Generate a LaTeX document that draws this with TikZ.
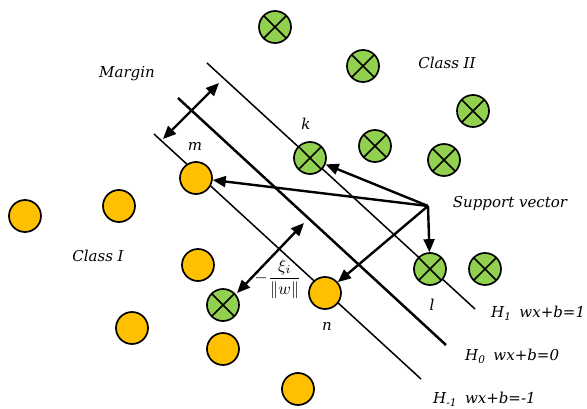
\documentclass[tikz,border=0pt]{standalone}
\usepackage{graphicx}
\usepackage{fontspec}
\setmainfont{DejaVu Serif}
\usetikzlibrary{arrows.meta}
\definecolor{gold}{HTML}{FFC000}
\definecolor{lgreen}{HTML}{92D050}
\begin{document}
\begin{tikzpicture}[x=1pt,y=-1pt,
 dot/.style={circle,draw=black,line width=1.7pt,minimum size=32pt,inner sep=0pt},
 yel/.style={dot,fill=gold},
 grn/.style={dot,fill=lgreen,path picture={\draw[line width=1.7pt] (path picture bounding box.north west)--(path picture bounding box.south east) (path picture bounding box.north east)--(path picture bounding box.south west);}},
 hyp/.style={line width=1.5pt},
 hypzero/.style={line width=2.5pt},
 arr/.style={line width=2.4pt,-{Triangle[length=13pt,width=11pt]}},
 darr/.style={line width=2.4pt,{Triangle[length=13pt,width=11pt]}-{Triangle[length=13pt,width=11pt]}},
 lbl/.style={font=\itshape\fontsize{15}{17}\selectfont}
]
\useasboundingbox (0,0) rectangle (587,409);
% hyperplanes
\coordinate (h1a) at (207,63);  \coordinate (h1b) at (475,309);
\coordinate (h0a) at (178,98);  \coordinate (h0b) at (446,345);
\coordinate (hma) at (154,134); \coordinate (hmb) at (421,379);
\draw[hyp] (h1a) -- (h1b);
\draw[hypzero] (h0a) -- (h0b);
\draw[hyp] (hma) -- (hmb);
% class II
\node[grn] (g1) at (275,27) {};
\node[grn] (g2) at (363,66) {};
\node[grn] (g3) at (473,111) {};
\node[grn] (k) at (310,158) {};
\node[grn] (g5) at (375,146) {};
\node[grn] (g6) at (444,160) {};
\node[grn] (l) at (430,269) {};
\node[grn] (g8) at (485,269) {};
\node[grn] (g9) at (223,305) {};
% class I
\node[yel] (m) at (196,178) {};
\node[yel] (y2) at (25,216) {};
\node[yel] (y3) at (119,206) {};
\node[yel] (y4) at (198,265) {};
\node[yel] (y5) at (132,328) {};
\node[yel] (y6) at (223,349) {};
\node[yel] (n) at (325,293) {};
\node[yel] (y8) at (298,389) {};
% support vector arrows
\coordinate (sv) at (428,206);
\draw[arr] (sv) -- (m);
\draw[arr] (sv) -- (k);
\draw[arr] (sv) -- (l);
\draw[arr] (sv) -- (n);
% margin arrows
\coordinate (mg1) at (163,139); \coordinate (mg2) at (219,83);
\draw[darr] (mg1) -- (mg2);
\coordinate (xi1) at (237,293); \coordinate (xi2) at (304,223);
\draw[darr] (xi1) -- (xi2);
% labels
\node[lbl] (tmargin) at (127,74) {Margin};
\node[lbl] (tc2) at (447,63) {Class II};
\node[lbl] (tc1) at (98,256) {Class I};
\node[lbl] (tsv) at (510,203) {Support vector};
\node[lbl] (tk) at (306,124) {k};
\node[lbl] (tm) at (195,147) {m};
\node[lbl] (tl) at (432,305) {l};
\node[lbl] (tn) at (327,327) {n};
\node[lbl,anchor=west,inner sep=0pt] (th1) at (491,313) {H\textsubscript{1}\hspace{8pt}wx+b=1};
\node[lbl,anchor=west,inner sep=0pt] (th0) at (465,356) {H\textsubscript{0}\hspace{8pt}wx+b=0};
\node[lbl,anchor=west,inner sep=0pt] (thm) at (433,399) {H\textsubscript{-1}\hspace{8pt}wx+b=-1};
\node[inner sep=0pt] (txi) at (278,279) {\scalebox{1.7}{$\displaystyle -\frac{\xi_i}{\|w\|}$}};
\end{tikzpicture}
\end{document}
